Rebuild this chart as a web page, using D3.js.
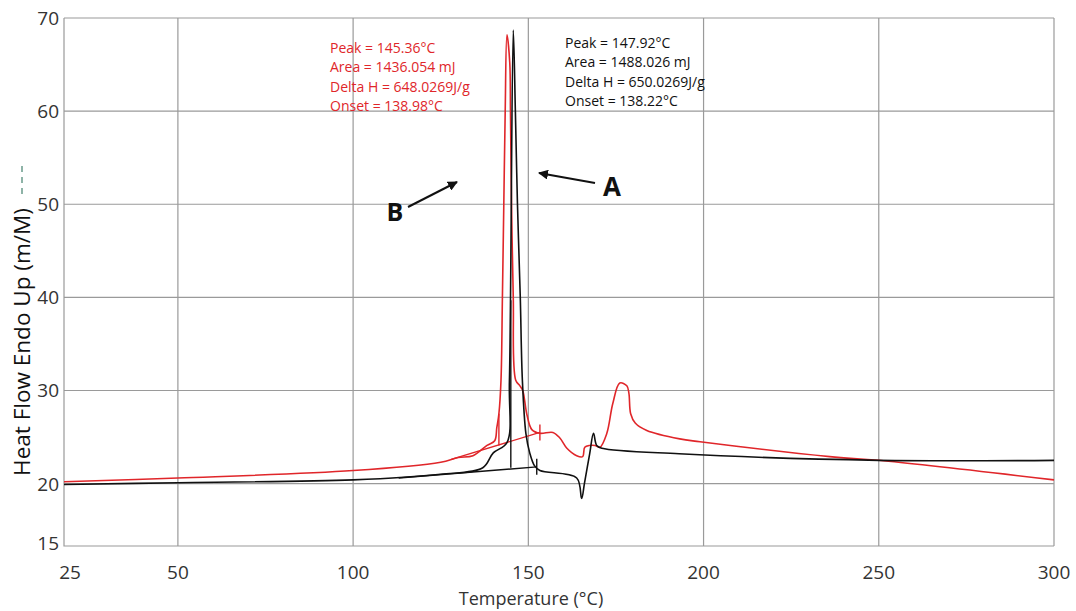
<!DOCTYPE html>
<html>
<head>
<meta charset="utf-8">
<script src="https://cdn.jsdelivr.net/npm/d3@7"></script>
<style>
  body { margin: 0; background: #fff; }
  text { font-family: "Open Sans", sans-serif; }
</style>
</head>
<body>
<div id="chart"></div>
<script>
// sample A (black) and sample B (red) DSC traces
let tempA = [17.5, 50, 100, 125, 137, 140, 143.9, 144.6, 145.7, 146.3, 146.9, 147.7, 148.3, 149.3, 150.4, 151.8, 153.3, 163.8, 165.2, 166, 167.5, 168.6, 169.5, 171, 193, 250, 300];
let heatA = [19.9, 20.1, 20.4, 21.0, 21.7, 23.3, 24.4, 31, 68.7, 60, 50, 40, 31.1, 25.4, 23.3, 21.9, 21.4, 20.6, 18.4, 20, 23.2, 25.4, 24.1, 23.8, 23.2, 22.5, 22.5];

let tempB = [17.5, 50, 100, 125, 130, 134.2, 138.2, 140.4, 141, 141.6, 142.2, 142.6, 143, 143.4, 143.9, 144.7, 144.9, 145.2, 145.7, 146.4, 147.6, 148.4, 149.6, 151, 153.3, 157, 159, 161, 163.8, 165.5, 166.1, 167.5, 169, 170.4, 172.4, 174.1, 176.1, 178.1, 178.7, 179.2, 180.5, 183.8, 193.2, 199, 236, 250, 300];
let heatB = [20.2, 20.6, 21.4, 22.3, 22.8, 23.0, 24.1, 24.6, 26, 27.5, 31.1, 40, 50, 60, 68.2, 65.2, 60, 50, 40, 31.1, 30.5, 30, 27.4, 25.8, 25.4, 25.5, 24.9, 23.8, 23.0, 22.9, 23.9, 24.1, 24.1, 23.9, 25.4, 28.6, 30.8, 30.5, 29.7, 27.5, 26.5, 25.7, 24.8, 24.5, 22.9, 22.5, 20.4];

// integration baselines [start, end] and peak drop lines [t, from, to]
let baseA = [[113, 20.6], [152.4, 21.8]];
let baseB = [[128, 22.6], [153.3, 25.5]];
let dropA = [145, 21.7, 39.7];
let dropB = [141.6, 24.1, 27.5];

let xTicks = [50, 100, 150, 200, 250, 300];
let yTicks = [20, 30, 40, 50, 60, 70];
let xStartLabel = "25";
let yStartLabel = "15";

let notesB = ["Peak = 145.36°C", "Area = 1436.054 mJ", "Delta H = 648.0269J/g", "Onset = 138.98°C"];
let notesA = ["Peak = 147.92°C", "Area = 1488.026 mJ", "Delta H = 650.0269J/g", "Onset = 138.22°C"];

let width = 1076, height = 611;
let margin = {left: 64, right: 22, top: 18, bottom: 65};

let svg = d3.select("#chart")
    .append("svg")
    .attr("width", width)
    .attr("height", height);

let x = d3.scaleLinear()
    .domain([17.5, 300])
    .range([margin.left, width - margin.right]);

let y = d3.scaleLinear()
    .domain([13.3, 70])
    .range([height - margin.bottom, margin.top]);

// grid
svg.selectAll(".vgrid")
    .data(xTicks)
    .enter()
    .append("line")
    .attr("x1", d => x(d))
    .attr("x2", d => x(d))
    .attr("y1", y(70))
    .attr("y2", y(13.3))
    .attr("stroke", "#9a9a9a")
    .attr("stroke-width", 1.2);

svg.selectAll(".hgrid")
    .data(yTicks)
    .enter()
    .append("line")
    .attr("x1", x(17.5))
    .attr("x2", x(300))
    .attr("y1", d => y(d))
    .attr("y2", d => y(d))
    .attr("stroke", "#9a9a9a")
    .attr("stroke-width", 1.2);

// frame left + bottom
svg.append("path")
    .attr("d", `M${x(17.5)},${y(70)}V${y(13.3)}H${x(300)}`)
    .attr("fill", "none")
    .attr("stroke", "#9a9a9a")
    .attr("stroke-width", 1.2);

// tick labels
svg.selectAll(".xlab")
    .data(xTicks)
    .enter()
    .append("text")
    .attr("x", d => x(d))
    .attr("y", 579)
    .attr("text-anchor", "middle")
    .attr("font-size", 19)
    .attr("fill", "#333")
    .text(d => d);

svg.append("text")
    .attr("x", x(17.5) + 6)
    .attr("y", 579)
    .attr("text-anchor", "middle")
    .attr("font-size", 19)
    .attr("fill", "#333")
    .text(xStartLabel);

svg.selectAll(".ylab")
    .data(yTicks)
    .enter()
    .append("text")
    .attr("x", 59)
    .attr("y", d => y(d) + 7)
    .attr("text-anchor", "end")
    .attr("font-size", 19)
    .attr("fill", "#333")
    .text(d => d);

svg.append("text")
    .attr("x", 59)
    .attr("y", y(13.3) + 4)
    .attr("text-anchor", "end")
    .attr("font-size", 19)
    .attr("fill", "#333")
    .text(yStartLabel);

// axis titles
svg.append("text")
    .attr("x", 531)
    .attr("y", 605)
    .attr("text-anchor", "middle")
    .attr("font-size", 18)
    .attr("fill", "#333")
    .text("Temperature (°C)");

svg.append("text")
    .attr("transform", "translate(30,342) rotate(-90)")
    .attr("text-anchor", "middle")
    .attr("font-size", 22.5)
    .attr("fill", "#111")
    .text("Heat Flow Endo Up (m/M)");

svg.append("line")
    .attr("x1", 22).attr("x2", 22)
    .attr("y1", 194).attr("y2", 164)
    .attr("stroke", "#6a9a8a")
    .attr("stroke-width", 1.5)
    .attr("stroke-dasharray", "6,5");

// traces
let plain = d3.line()
    .x(d => x(d[0]))
    .y(d => y(d[1]));

let smooth = d3.line()
    .x(d => x(d[0]))
    .y(d => y(d[1]))
    .curve(d3.curveCatmullRom.alpha(0.5));

let series = [
    {temp: tempB, heat: heatB, base: baseB, drop: dropB, color: "#e0262a"},
    {temp: tempA, heat: heatA, base: baseA, drop: dropA, color: "#111"}
];

series.forEach(s => {
    let pts = s.temp.map((t, i) => [t, s.heat[i]]);
    svg.append("path")
        .datum(pts)
        .attr("d", smooth)
        .attr("fill", "none")
        .attr("stroke", s.color)
        .attr("stroke-width", 1.6);

    svg.append("path")
        .datum(s.base)
        .attr("d", plain)
        .attr("fill", "none")
        .attr("stroke", s.color)
        .attr("stroke-width", 1.4);

    let end = s.base[1];
    svg.append("line")
        .attr("x1", x(end[0])).attr("x2", x(end[0]))
        .attr("y1", y(end[1]) - 8).attr("y2", y(end[1]) + 8)
        .attr("stroke", s.color)
        .attr("stroke-width", 1.4);

    svg.append("line")
        .attr("x1", x(s.drop[0])).attr("x2", x(s.drop[0]))
        .attr("y1", y(s.drop[1])).attr("y2", y(s.drop[2]))
        .attr("stroke", s.color)
        .attr("stroke-width", 1.4);
});

// peak notes
svg.selectAll(".noteB")
    .data(notesB)
    .enter()
    .append("text")
    .attr("x", 330)
    .attr("y", (d, i) => 53 + i * 19.4)
    .attr("font-size", 14)
    .attr("font-weight", 500)
    .attr("fill", "#e0262a")
    .text(d => d);

svg.selectAll(".noteA")
    .data(notesA)
    .enter()
    .append("text")
    .attr("x", 565)
    .attr("y", (d, i) => 48 + i * 19.4)
    .attr("font-size", 14)
    .attr("font-weight", 500)
    .attr("fill", "#111")
    .text(d => d);

// arrows A / B
svg.append("defs").append("marker")
    .attr("id", "head")
    .attr("viewBox", "0 0 10 10")
    .attr("refX", 9).attr("refY", 5)
    .attr("markerWidth", 5).attr("markerHeight", 5)
    .attr("orient", "auto")
    .append("path")
    .attr("d", "M0,0L10,5L0,10z")
    .attr("fill", "#111");

svg.append("line")
    .attr("x1", 408).attr("y1", 207)
    .attr("x2", 457).attr("y2", 182)
    .attr("stroke", "#111")
    .attr("stroke-width", 2)
    .attr("marker-end", "url(#head)");

svg.append("line")
    .attr("x1", 595).attr("y1", 183)
    .attr("x2", 539).attr("y2", 173)
    .attr("stroke", "#111")
    .attr("stroke-width", 2)
    .attr("marker-end", "url(#head)");

svg.append("text")
    .attr("x", 395).attr("y", 221)
    .attr("text-anchor", "middle")
    .attr("font-size", 25)
    .attr("font-weight", "bold")
    .attr("fill", "#111")
    .text("B");

svg.append("text")
    .attr("x", 612).attr("y", 196)
    .attr("text-anchor", "middle")
    .attr("font-size", 26)
    .attr("font-weight", "bold")
    .attr("fill", "#111")
    .text("A");
</script>
</body>
</html>
